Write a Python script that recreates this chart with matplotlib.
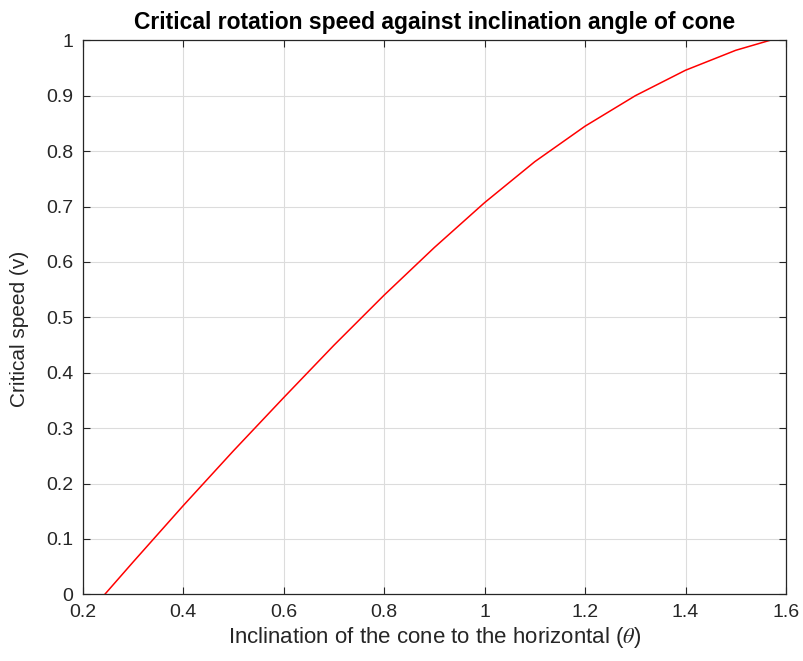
import matplotlib
matplotlib.use("Agg")
from matplotlib import pyplot as plt
from matplotlib.ticker import FuncFormatter

# values
theta = [0.244, 0.3, 0.4, 0.5, 0.6, 0.7, 0.8, 0.9, 1.0,
         1.1, 1.2, 1.3, 1.4, 1.5, 1.568]
speed = [0.0, 0.058, 0.16, 0.259, 0.355, 0.4495, 0.54, 0.626, 0.707,
         0.781, 0.845, 0.9, 0.946, 0.982, 1.0]

xticks = [0.2, 0.4, 0.6, 0.8, 1.0, 1.2, 1.4, 1.6]
yticks = [0, 0.1, 0.2, 0.3, 0.4, 0.5, 0.6, 0.7, 0.8, 0.9, 1.0]

plt.rcParams['font.family'] = ['Liberation Sans', 'DejaVu Sans']
plt.rcParams['mathtext.fontset'] = 'stix'

fig = plt.figure(figsize=(8.04, 6.61), dpi=100)
ax = fig.add_axes([0.1029, 0.1009, 0.8747, 0.8381])

ax.plot(theta, speed, color='red', linewidth=1.1)

ax.set_xlim(0.2, 1.6)
ax.set_ylim(0, 1)
ax.set_xticks(xticks)
ax.set_yticks(yticks)
fmt = FuncFormatter(lambda v, p: '%g' % round(v, 2))
ax.xaxis.set_major_formatter(fmt)
ax.yaxis.set_major_formatter(fmt)

dark = '#262626'
ax.grid(True, color='#dcdcdc', linewidth=0.8)
ax.tick_params(direction='in', top=True, right=True, length=5, width=0.8,
               colors=dark, labelsize=14, labelcolor=dark, pad=7)
for s in ax.spines.values():
    s.set_color(dark)
    s.set_linewidth(0.9)

ax.set_title('Critical rotation speed against inclination angle of cone',
             fontsize=16.5, fontweight='bold', pad=8)
ax.set_xlabel(r'Inclination of the cone to the horizontal ($\mathit{\theta}$)',
              fontsize=16, color=dark, labelpad=3)
ax.set_ylabel('Critical speed (v)', fontsize=15, color=dark)
ax.yaxis.set_label_coords(-0.077, 0.48)

fig.savefig('out.png', dpi=100, facecolor='white')
